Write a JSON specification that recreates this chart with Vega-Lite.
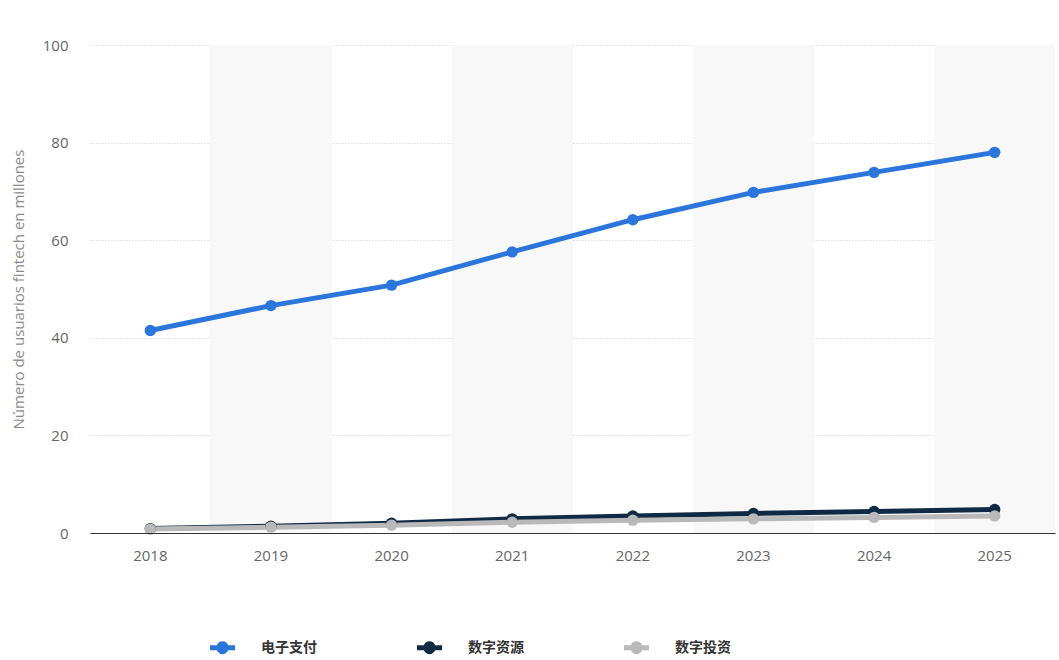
{
  "$schema": "https://vega.github.io/schema/vega-lite/v6.json",
  "width": 1059,
  "height": 660,
  "autosize": {"type": "fit", "contains": "padding"},
  "padding": {"left": 11, "right": 4, "top": 38, "bottom": 97},
  "background": "#ffffff",
  "config": {
    "view": {"stroke": null},
    "font": "Open Sans"
  },
  "data": {
    "values": [
      {"year": "2018", "series": "电子支付", "users": 41.5},
      {"year": "2019", "series": "电子支付", "users": 46.6},
      {"year": "2020", "series": "电子支付", "users": 50.8},
      {"year": "2021", "series": "电子支付", "users": 57.6},
      {"year": "2022", "series": "电子支付", "users": 64.2},
      {"year": "2023", "series": "电子支付", "users": 69.8},
      {"year": "2024", "series": "电子支付", "users": 73.9},
      {"year": "2025", "series": "电子支付", "users": 78.0},
      {"year": "2018", "series": "数字资源", "users": 0.9},
      {"year": "2019", "series": "数字资源", "users": 1.4},
      {"year": "2020", "series": "数字资源", "users": 2.0},
      {"year": "2021", "series": "数字资源", "users": 2.9},
      {"year": "2022", "series": "数字资源", "users": 3.5},
      {"year": "2023", "series": "数字资源", "users": 4.0},
      {"year": "2024", "series": "数字资源", "users": 4.4},
      {"year": "2025", "series": "数字资源", "users": 4.8},
      {"year": "2018", "series": "数字投资", "users": 0.8},
      {"year": "2019", "series": "数字投资", "users": 1.2},
      {"year": "2020", "series": "数字投资", "users": 1.6},
      {"year": "2021", "series": "数字投资", "users": 2.2},
      {"year": "2022", "series": "数字投资", "users": 2.6},
      {"year": "2023", "series": "数字投资", "users": 2.9},
      {"year": "2024", "series": "数字投资", "users": 3.2},
      {"year": "2025", "series": "数字投资", "users": 3.5}
    ]
  },
  "encoding": {
    "x": {
      "field": "year",
      "type": "ordinal",
      "scale": {"paddingInner": 0, "paddingOuter": 0},
      "axis": {
        "title": null,
        "labelAngle": 0,
        "labelColor": "#666666",
        "labelFontSize": 15,
        "labelPadding": 15,
        "ticks": false,
        "domainColor": "#333333",
        "domainWidth": 1,
        "grid": false
      }
    }
  },
  "layer": [
    {
      "transform": [{"filter": "indexof(['2019','2021','2023','2025'], datum.year) >= 0"}],
      "mark": {"type": "rect", "color": "#f8f8f8"},
      "encoding": {}
    },
    {
      "mark": {"type": "line", "strokeWidth": 5, "point": {"filled": true, "size": 130, "opacity": 1}},
      "encoding": {
        "y": {
          "field": "users",
          "type": "quantitative",
          "scale": {"domain": [0, 100]},
          "axis": {
            "title": "Número de usuarios fintech en millones",
            "titleColor": "#8a8a8a",
            "titleFontSize": 15,
            "titleFontWeight": "normal",
            "titlePadding": 16,
            "labelColor": "#666666",
            "labelFontSize": 15,
            "labelPadding": 22,
            "labelOverlap": false,
            "values": [0, 20, 40, 60, 80, 100],
            "ticks": false,
            "domain": false,
            "gridColor": "#c8c8c8",
            "gridDash": [1, 2],
            "gridWidth": 1
          }
        },
        "color": {
          "field": "series",
          "type": "nominal",
          "sort": ["电子支付", "数字资源", "数字投资"],
          "scale": {
            "domain": ["电子支付", "数字资源", "数字投资"],
            "range": ["#2a76dd", "#0f2a44", "#b9b9b9"]
          },
          "legend": {
            "title": null,
            "orient": "none",
            "legendX": 120,
            "legendY": 590,
            "direction": "horizontal",
            "symbolType": "M-1,-0.2L-0.45,-0.2A0.48,0.48 0 0,1 0.45,-0.2L1,-0.2L1,0.2L0.45,0.2A0.48,0.48 0 0,1 -0.45,0.2L-1,0.2Z",
            "symbolSize": 625,
            "symbolStrokeWidth": 0,
            "labelFontSize": 14,
            "labelFontWeight": "bold",
            "labelColor": "#333333",
            "labelFont": "Noto Sans CJK SC",
            "labelOffset": 26,
            "columnPadding": 100
          }
        },
        "order": {"field": "year"}
      }
    }
  ]
}
